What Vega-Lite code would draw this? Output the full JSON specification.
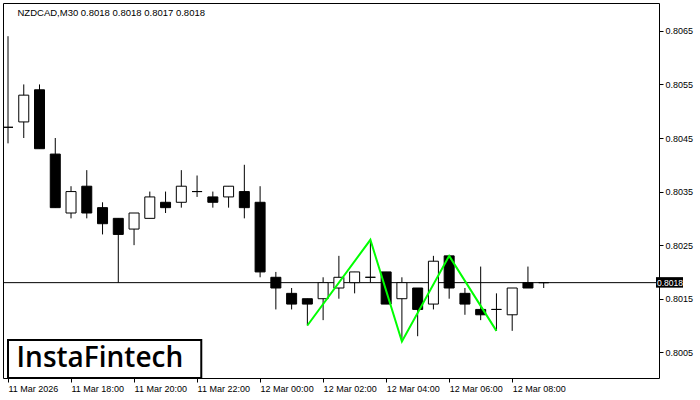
{
  "$schema": "https://vega.github.io/schema/vega-lite/v6.json",
  "width": 656,
  "height": 375,
  "autosize": {"type": "none"},
  "padding": {"left": 3, "top": 3, "right": 41, "bottom": 22},
  "background": "white",
  "config": {"view": {"stroke": "black", "strokeWidth": 1}, "font": "Liberation Sans"},
  "title": {"text": "NZDCAD,M30  0.8018 0.8018 0.8017 0.8018", "anchor": "start", "offset": -14, "dx": 15, "fontSize": 9.5, "font": "Liberation Sans", "fontWeight": "normal", "color": "#000000"},
  "resolve": {"axis": {"x": "independent", "y": "independent"}},
  "datasets": {
    "candles": [
      {"t": "2026-03-11T16:00:00Z", "o": 0.8047, "h": 0.8064, "l": 0.8044, "c": 0.8047},
      {"t": "2026-03-11T16:30:00Z", "o": 0.8048, "h": 0.8055, "l": 0.8045, "c": 0.8053},
      {"t": "2026-03-11T17:00:00Z", "o": 0.8054, "h": 0.8055, "l": 0.8043, "c": 0.8043},
      {"t": "2026-03-11T17:30:00Z", "o": 0.8042, "h": 0.8045, "l": 0.8032, "c": 0.8032},
      {"t": "2026-03-11T18:00:00Z", "o": 0.8031, "h": 0.8036, "l": 0.8030, "c": 0.8035},
      {"t": "2026-03-11T18:30:00Z", "o": 0.8036, "h": 0.8039, "l": 0.8030, "c": 0.8031},
      {"t": "2026-03-11T19:00:00Z", "o": 0.8032, "h": 0.8033, "l": 0.8027, "c": 0.8029},
      {"t": "2026-03-11T19:30:00Z", "o": 0.8030, "h": 0.8030, "l": 0.8018, "c": 0.8027},
      {"t": "2026-03-11T20:00:00Z", "o": 0.8028, "h": 0.8031, "l": 0.8025, "c": 0.8031},
      {"t": "2026-03-11T20:30:00Z", "o": 0.8030, "h": 0.8035, "l": 0.8030, "c": 0.8034},
      {"t": "2026-03-11T21:00:00Z", "o": 0.8033, "h": 0.8035, "l": 0.8031, "c": 0.8032},
      {"t": "2026-03-11T21:30:00Z", "o": 0.8033, "h": 0.8039, "l": 0.8032, "c": 0.8036},
      {"t": "2026-03-11T22:00:00Z", "o": 0.8035, "h": 0.8038, "l": 0.8034, "c": 0.8035},
      {"t": "2026-03-11T22:30:00Z", "o": 0.8034, "h": 0.8035, "l": 0.8032, "c": 0.8033},
      {"t": "2026-03-11T23:00:00Z", "o": 0.8034, "h": 0.8036, "l": 0.8032, "c": 0.8036},
      {"t": "2026-03-11T23:30:00Z", "o": 0.8035, "h": 0.8040, "l": 0.8030, "c": 0.8032},
      {"t": "2026-03-12T00:00:00Z", "o": 0.8033, "h": 0.8036, "l": 0.8019, "c": 0.8020},
      {"t": "2026-03-12T00:30:00Z", "o": 0.8019, "h": 0.8020, "l": 0.8013, "c": 0.8017},
      {"t": "2026-03-12T01:00:00Z", "o": 0.8016, "h": 0.8017, "l": 0.8013, "c": 0.8014},
      {"t": "2026-03-12T01:30:00Z", "o": 0.8015, "h": 0.8015, "l": 0.8010, "c": 0.8014},
      {"t": "2026-03-12T02:00:00Z", "o": 0.8015, "h": 0.8019, "l": 0.8011, "c": 0.8018},
      {"t": "2026-03-12T02:30:00Z", "o": 0.8017, "h": 0.8023, "l": 0.8015, "c": 0.8019},
      {"t": "2026-03-12T03:00:00Z", "o": 0.8018, "h": 0.8020, "l": 0.8016, "c": 0.8020},
      {"t": "2026-03-12T03:30:00Z", "o": 0.8019, "h": 0.8026, "l": 0.8018, "c": 0.8019},
      {"t": "2026-03-12T04:00:00Z", "o": 0.8020, "h": 0.8020, "l": 0.8014, "c": 0.8014},
      {"t": "2026-03-12T04:30:00Z", "o": 0.8015, "h": 0.8019, "l": 0.8007, "c": 0.8018},
      {"t": "2026-03-12T05:00:00Z", "o": 0.8017, "h": 0.8017, "l": 0.8008, "c": 0.8013},
      {"t": "2026-03-12T05:30:00Z", "o": 0.8014, "h": 0.8023, "l": 0.8013, "c": 0.8022},
      {"t": "2026-03-12T06:00:00Z", "o": 0.8023, "h": 0.8023, "l": 0.8015, "c": 0.8017},
      {"t": "2026-03-12T06:30:00Z", "o": 0.8016, "h": 0.8017, "l": 0.8012, "c": 0.8014},
      {"t": "2026-03-12T07:00:00Z", "o": 0.8013, "h": 0.8021, "l": 0.8011, "c": 0.8012},
      {"t": "2026-03-12T07:30:00Z", "o": 0.8013, "h": 0.8016, "l": 0.8009, "c": 0.8013},
      {"t": "2026-03-12T08:00:00Z", "o": 0.8012, "h": 0.8017, "l": 0.8009, "c": 0.8017},
      {"t": "2026-03-12T08:30:00Z", "o": 0.8018, "h": 0.8021, "l": 0.8017, "c": 0.8017},
      {"t": "2026-03-12T09:00:00Z", "o": 0.8018, "h": 0.8018, "l": 0.8017, "c": 0.8018}
    ],
    "zigzag": [
      {"t": "2026-03-12T01:30:00Z", "p": 0.8010},
      {"t": "2026-03-12T03:30:00Z", "p": 0.8026},
      {"t": "2026-03-12T04:30:00Z", "p": 0.8007},
      {"t": "2026-03-12T06:00:00Z", "p": 0.8023},
      {"t": "2026-03-12T07:30:00Z", "p": 0.8009}
    ]
  },
  "layer": [
    {
      "data": {"name": "candles"},
      "mark": {"type": "rule", "color": "black", "strokeWidth": 1, "clip": true},
      "encoding": {
        "x": {
          "field": "t", "type": "temporal",
          "scale": {"type": "utc", "nice": false, "domain": [{"year": 2026, "month": 3, "date": 11, "hours": 16, "utc": true}, {"year": 2026, "month": 3, "date": 12, "hours": 12, "minutes": 30, "utc": true}]},
          "axis": {
            "title": null, "orient": "bottom", "domain": false, "grid": false,
            "values": [
              {"year": 2026, "month": 3, "date": 11, "hours": 16, "utc": true},
              {"year": 2026, "month": 3, "date": 11, "hours": 18, "utc": true},
              {"year": 2026, "month": 3, "date": 11, "hours": 20, "utc": true},
              {"year": 2026, "month": 3, "date": 11, "hours": 22, "utc": true},
              {"year": 2026, "month": 3, "date": 12, "hours": 0, "utc": true},
              {"year": 2026, "month": 3, "date": 12, "hours": 2, "utc": true},
              {"year": 2026, "month": 3, "date": 12, "hours": 4, "utc": true},
              {"year": 2026, "month": 3, "date": 12, "hours": 6, "utc": true},
              {"year": 2026, "month": 3, "date": 12, "hours": 8, "utc": true}
            ],
            "labelExpr": "utcFormat(datum.value, '%H') == '16' ? '11 Mar 2026' : utcFormat(datum.value, '%d %b %H:%M')",
            "labelAlign": "left", "labelPadding": 2, "labelFontSize": 9, "labelFont": "Liberation Sans", "labelColor": "#000000",
            "tickSize": 4, "tickColor": "black", "tickWidth": 1, "labelOverlap": false, "labelFlush": false
          }
        },
        "y": {
          "field": "l", "type": "quantitative",
          "scale": {"domain": [0.80002, 0.80702], "zero": false, "nice": false},
          "axis": {
            "title": null, "orient": "right", "domain": false, "grid": false,
            "values": [0.8005, 0.8015, 0.8025, 0.8035, 0.8045, 0.8055, 0.8065],
            "format": ".4f", "labelAlign": "left", "labelBaseline": "middle", "labelPadding": 2,
            "labelFontSize": 9, "labelFont": "Liberation Sans", "labelColor": "#000000",
            "tickSize": 4, "tickColor": "black", "tickWidth": 1, "labelOverlap": false, "labelFlush": false
          }
        },
        "y2": {"field": "h"}
      }
    },
    {
      "data": {"values": [{}]},
      "mark": {"type": "rule", "color": "black", "strokeWidth": 1},
      "encoding": {
        "y": {"datum": 0.8018, "type": "quantitative", "scale": {"domain": [0.80002, 0.80702], "zero": false, "nice": false}, "axis": null}
      }
    },
    {
      "data": {"name": "candles"},
      "mark": {"type": "bar", "size": 10, "stroke": "black", "strokeWidth": 1, "clip": true},
      "encoding": {
        "x": {"field": "t", "type": "temporal", "scale": {"type": "utc", "nice": false, "domain": [{"year": 2026, "month": 3, "date": 11, "hours": 16, "utc": true}, {"year": 2026, "month": 3, "date": 12, "hours": 12, "minutes": 30, "utc": true}]}, "axis": null},
        "y": {"field": "o", "type": "quantitative", "scale": {"domain": [0.80002, 0.80702], "zero": false, "nice": false}, "axis": null},
        "y2": {"field": "c"},
        "fill": {"condition": {"test": "datum.c >= datum.o", "value": "white"}, "value": "black"}
      }
    },
    {
      "data": {"name": "zigzag"},
      "mark": {"type": "line", "color": "#00ff00", "strokeWidth": 2},
      "encoding": {
        "x": {"field": "t", "type": "temporal", "scale": {"type": "utc", "nice": false, "domain": [{"year": 2026, "month": 3, "date": 11, "hours": 16, "utc": true}, {"year": 2026, "month": 3, "date": 12, "hours": 12, "minutes": 30, "utc": true}]}, "axis": null},
        "y": {"field": "p", "type": "quantitative", "scale": {"domain": [0.80002, 0.80702], "zero": false, "nice": false}, "axis": null}
      }
    },
    {
      "data": {"values": [{}]},
      "mark": {"type": "rect", "fill": "white", "stroke": "black", "strokeWidth": 2},
      "encoding": {
        "x": {"datum": {"year": 2026, "month": 3, "date": 11, "hours": 16, "utc": true}, "type": "temporal", "scale": {"type": "utc", "nice": false, "domain": [{"year": 2026, "month": 3, "date": 11, "hours": 16, "utc": true}, {"year": 2026, "month": 3, "date": 12, "hours": 12, "minutes": 30, "utc": true}]}, "axis": null},
        "x2": {"datum": {"year": 2026, "month": 3, "date": 11, "hours": 22, "minutes": 8, "utc": true}},
        "y": {"datum": 0.80073, "type": "quantitative", "scale": {"domain": [0.80002, 0.80702], "zero": false, "nice": false}, "axis": null},
        "y2": {"datum": 0.80002}
      }
    },
    {
      "data": {"values": [{}]},
      "mark": {"type": "text", "text": "InstaFintech", "font": "Open Sans", "fontSize": 28, "fontWeight": 600, "align": "center", "baseline": "middle", "color": "black"},
      "encoding": {
        "x": {"datum": {"year": 2026, "month": 3, "date": 11, "hours": 18, "minutes": 55, "utc": true}, "type": "temporal", "scale": {"type": "utc", "nice": false, "domain": [{"year": 2026, "month": 3, "date": 11, "hours": 16, "utc": true}, {"year": 2026, "month": 3, "date": 12, "hours": 12, "minutes": 30, "utc": true}]}, "axis": null},
        "y": {"datum": 0.80038, "type": "quantitative", "scale": {"domain": [0.80002, 0.80702], "zero": false, "nice": false}, "axis": null}
      }
    },
    {
      "data": {"values": [{}]},
      "mark": {"type": "rect", "fill": "black", "xOffset": 2, "x2Offset": 29, "yOffset": -5.5, "y2Offset": 5},
      "encoding": {
        "x": {"datum": {"year": 2026, "month": 3, "date": 12, "hours": 12, "minutes": 30, "utc": true}, "type": "temporal", "scale": {"type": "utc", "nice": false, "domain": [{"year": 2026, "month": 3, "date": 11, "hours": 16, "utc": true}, {"year": 2026, "month": 3, "date": 12, "hours": 12, "minutes": 30, "utc": true}]}, "axis": null},
        "x2": {"datum": {"year": 2026, "month": 3, "date": 12, "hours": 12, "minutes": 30, "utc": true}},
        "y": {"datum": 0.8018, "type": "quantitative", "scale": {"domain": [0.80002, 0.80702], "zero": false, "nice": false}, "axis": null},
        "y2": {"datum": 0.8018}
      }
    },
    {
      "data": {"values": [{}]},
      "mark": {"type": "text", "text": "0.8018", "font": "Liberation Sans", "fontSize": 8.5, "align": "left", "baseline": "middle", "color": "white", "dx": 3},
      "encoding": {
        "x": {"datum": {"year": 2026, "month": 3, "date": 12, "hours": 12, "minutes": 30, "utc": true}, "type": "temporal", "scale": {"type": "utc", "nice": false, "domain": [{"year": 2026, "month": 3, "date": 11, "hours": 16, "utc": true}, {"year": 2026, "month": 3, "date": 12, "hours": 12, "minutes": 30, "utc": true}]}, "axis": null},
        "y": {"datum": 0.8018, "type": "quantitative", "scale": {"domain": [0.80002, 0.80702], "zero": false, "nice": false}, "axis": null}
      }
    }
  ]
}
